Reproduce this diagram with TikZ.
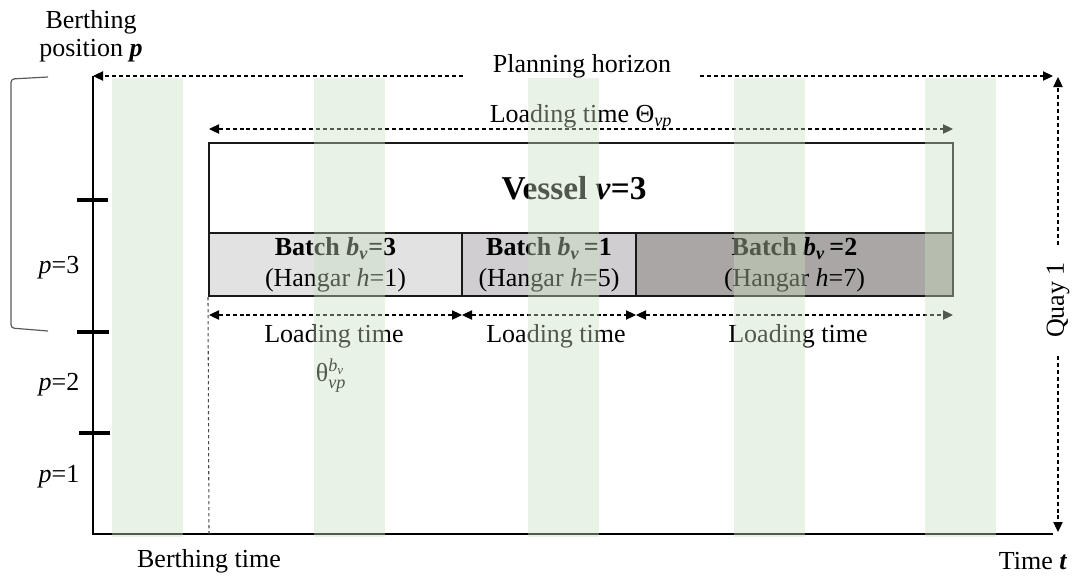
\documentclass[tikz,border=0pt]{standalone}
\usepackage{amsmath}
\usepackage{fontspec}
\setmainfont{Liberation Serif}
\usetikzlibrary{arrows.meta}
\definecolor{stripegreen}{RGB}{200,224,190}
\definecolor{batchA}{RGB}{226,226,226}
\definecolor{batchB}{RGB}{208,206,208}
\definecolor{batchC}{RGB}{170,166,166}
\definecolor{bracegray}{RGB}{90,90,90}
\begin{document}
\begin{tikzpicture}[x=0.75pt,y=-0.75pt,
  every node/.style={font=\fontsize{19.5}{21}\selectfont, inner sep=0pt},
  axisline/.style={line width=1.1pt, black},
  darr/.style={line width=0.8pt, dash pattern=on 3pt off 2.2pt, -{Triangle[length=7.5pt,width=7pt]}},
  ddarr/.style={line width=0.8pt, dash pattern=on 3pt off 2.2pt, {Triangle[length=7.5pt,width=7pt]}-{Triangle[length=7.5pt,width=7pt]}},
  vbox/.style={draw=black!90, line width=1.5pt, minimum width=558pt, minimum height=67.5pt},
  bbox/.style={draw=black!90, line width=1.5pt, minimum height=47.25pt, align=center, font=\fontsize{19.5}{23}\selectfont},
  tickmark/.style={line width=3pt, black},
  stripe/.style={fill=stripegreen, fill opacity=0.4},
  guide/.style={line width=0.8pt, black!70, dash pattern=on 2.5pt off 2pt}
]
\useasboundingbox (0,0) rectangle (1072,576);

% axes
\coordinate (Ytop) at (93,76);
\coordinate (O) at (93,534);
\coordinate (Xend) at (1053,534);
\draw[axisline] (Ytop) -- (O) -- (Xend);

% axis labels
\node[align=center] (bpos) at (91,36) {Berthing\\position \textbf{\textit{p}}};
\node (btime) at (209,561) {Berthing time};
\node (ttime) at (1033,561) {Time \textbf{\textit{t}}};

% ticks
\draw[tickmark] (77,200) -- (108,200);
\draw[tickmark] (77,332) -- (109,332);
\draw[tickmark] (79,433) -- (110,433);

\node (p3) at (59,268) {\textit{p}=3};
\node (p2) at (59,385) {\textit{p}=2};
\node (p1) at (59,477) {\textit{p}=1};

% bracket
\draw[bracegray, line width=0.9pt, rounded corners=2.5pt] (48,77) -- (11,79) -- (11,328) -- (48,331);

% planning horizon
\node (ph) at (582,66) {Planning horizon};
\coordinate (phL) at (463,76);
\coordinate (phR) at (700,76);
\coordinate (phEnd) at (1053,76);
\draw[darr] (phL) -- (Ytop);
\draw[darr] (phR) -- (phEnd);

% quay
\node[rotate=90] (quay) at (1058,300) {Quay 1};
\coordinate (qa) at (1058,245);
\coordinate (qb) at (1058,356);
\coordinate (qTop) at (1058,77);
\coordinate (qBot) at (1058,532);
\draw[darr] (qa) -- (qTop);
\draw[darr] (qb) -- (qBot);

% vessel
\node[vbox] (vessel) at (581,188) {};
\node[font=\fontsize{25}{27}\selectfont\bfseries] (vlabel) at (574,188) {Vessel \textit{v}=3};
\node[bbox, fill=batchA, minimum width=189.75pt] (b1) at (335.5,264.5)
  {\textbf{Batch \textit{b}\textsubscript{\textit{v}}=3}\\(Hangar \textit{h}=1)};
\node[bbox, fill=batchB, minimum width=130.5pt] (b2) at (549,264.5)
  {\textbf{Batch \textit{b}\textsubscript{\textit{v}}\,=1}\\(Hangar \textit{h}=5)};
\node[bbox, fill=batchC, minimum width=237.75pt] (b3) at (794.5,264.5)
  {\textbf{Batch \textit{b}\textsubscript{\textit{v}}\,=2}\\(Hangar \textit{h}=7)};

% loading time Theta
\node (lt) at (581,117) {Loading time Θ$_{\textit{vp}}$};
\coordinate (thL) at (209,129);
\coordinate (thR) at (953,129);
\draw[ddarr] (thL) -- (thR);

% batch loading arrows
\coordinate (la0) at (209,315);
\coordinate (la1) at (462,315);
\coordinate (la2) at (636,315);
\coordinate (la3) at (953,315);
\draw[ddarr] (la0) -- (la1);
\draw[ddarr] (la1) -- (la2);
\draw[ddarr] (la2) -- (la3);
\node (l1) at (334,336) {Loading time};
\node (th) at (331,376) {θ$^{\textit{b}_{\textit{v}}}_{\textit{vp}}$};
\node (l2) at (556,336) {Loading time};
\node (l3) at (798,336) {Loading time};

% berthing time guide
\coordinate (bt) at (209,534);
\draw[guide] (b1.south west) -- (bt);

% green stripes
\fill[stripe] (112,78) rectangle (183,537);
\fill[stripe] (314,78) rectangle (385,537);
\fill[stripe] (528,78) rectangle (599,537);
\fill[stripe] (734,78) rectangle (805,537);
\fill[stripe] (925,78) rectangle (996,537);
\end{tikzpicture}
\end{document}
